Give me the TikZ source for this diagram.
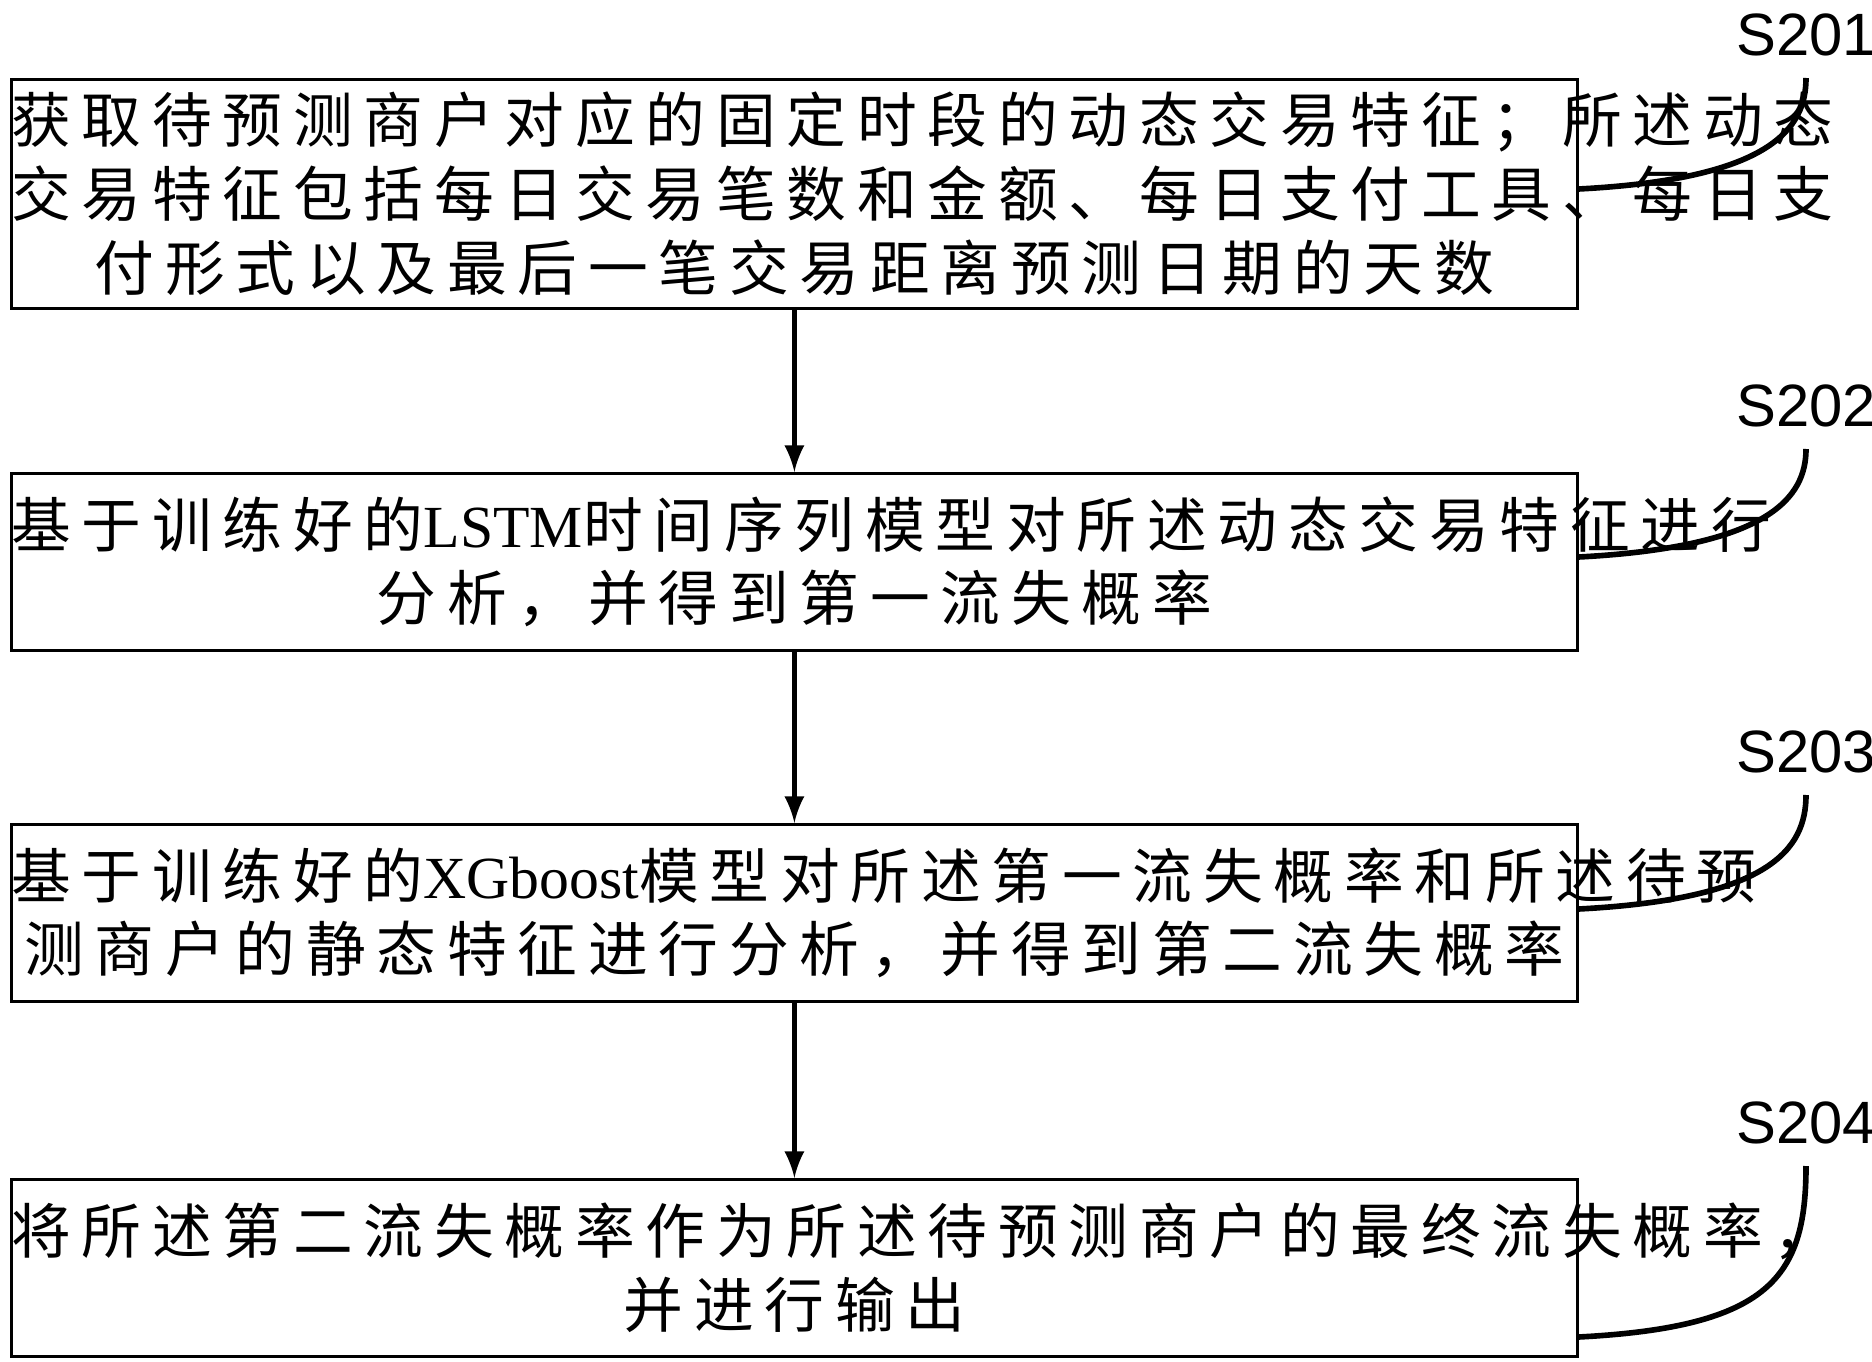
\documentclass[tikz,border=0pt]{standalone}
\usepackage{fontspec}
\setmainfont{Liberation Serif}
\setsansfont{Liberation Sans}
\newfontfamily\cjk[LetterSpace=18]{Noto Sans CJK SC}
\usetikzlibrary{positioning}
\tikzset{
  stage/.style={draw,line width=0.8pt,text width=156.6mm,align=center,font=\cjk\fontsize{17pt}{21pt}\selectfont,anchor=north west,inner sep=0pt},
  flow/.style={-latex,line width=1.6pt},
  tag/.style={font=\sffamily\fontsize{17pt}{20pt}\selectfont},
  lead/.style={line width=1.6pt}
}
\begin{document}
\begin{tikzpicture}[x=0.1mm,y=-0.1mm]
\useasboundingbox (0,0) rectangle (1872,1362);

\node[stage,minimum height=22.9mm] (s1) at (10,78) {获取待预测商户对应的固定时段的动态交易特征；所述动态\\交易特征包括每日交易笔数和金额、每日支付工具、每日支\\付形式以及最后一笔交易距离预测日期的天数};
\node[stage,minimum height=17.7mm] (s2) at (10,472) {基于训练好的{\rmfamily LSTM}时间序列模型对所述动态交易特征进行\\分析，并得到第一流失概率};
\node[stage,minimum height=17.7mm] (s3) at (10,823) {基于训练好的{\rmfamily XGboost}模型对所述第一流失概率和所述待预\\测商户的静态特征进行分析，并得到第二流失概率};
\node[stage,minimum height=17.7mm] (s4) at (10,1178) {将所述第二流失概率作为所述待预测商户的最终流失概率，\\并进行输出};

\draw[flow] (s1) -- (s2);
\draw[flow] (s2) -- (s3);
\draw[flow] (s3) -- (s4);

\foreach \i/\y/\t in {1/189/78,2/557/449,3/909/795,4/1337/1166}{
\node[tag] (t\i) at (1806,\t-43) {S20\i};
\coordinate (c\i) at (1806,\t);
\draw[lead] (s\i.east |- 0,\y) .. controls (1770,\y-10) and (1806,\y-60) .. (c\i);
}
\end{tikzpicture}
\end{document}
